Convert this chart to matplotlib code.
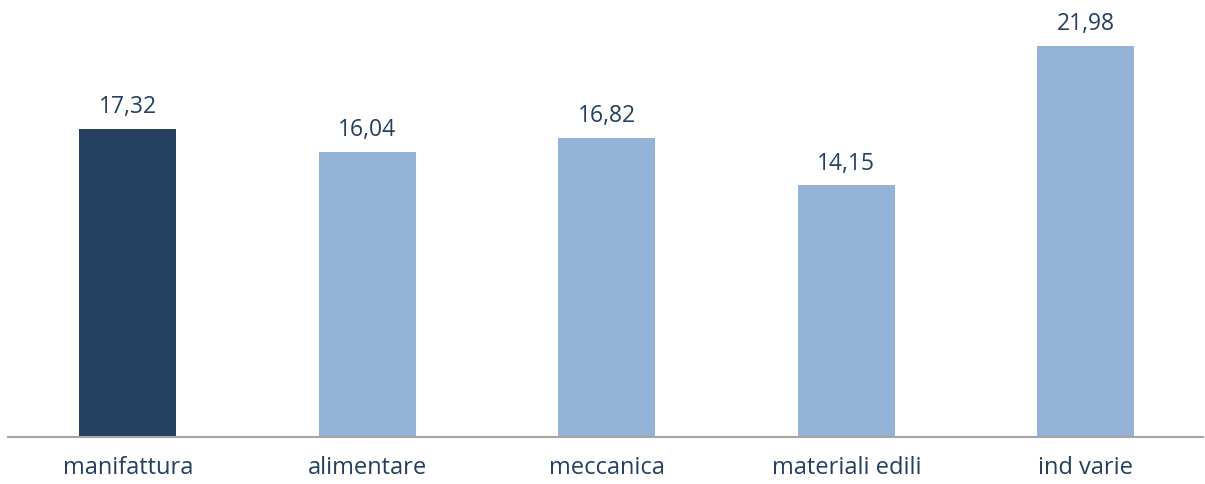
import matplotlib
matplotlib.use("Agg")
import matplotlib.pyplot as plt

categories = ["manifattura", "alimentare", "meccanica", "materiali edili", "ind varie"]
values = [17.32, 16.04, 16.82, 14.15, 21.98]
value_labels = ["17,32", "16,04", "16,82", "14,15", "21,98"]

dark = "#253f5f"
light = "#95b3d7"
text_color = "#253f5f"

plt.rcParams["font.family"] = ["Open Sans", "DejaVu Sans"]

fig = plt.figure(figsize=(12.05, 4.84), dpi=100)
ax = fig.add_axes([8 / 1205, 47 / 484, 1195 / 1205, 437 / 484])

x = list(range(len(categories)))
colors = [dark] + [light] * (len(categories) - 1)
bars = ax.bar(x, values, width=0.405, color=colors, zorder=2)

for b, lab in zip(bars, value_labels):
    ax.annotate(lab, (b.get_x() + b.get_width() / 2, b.get_height()),
                xytext=(0, 7), textcoords="offset points",
                ha="center", va="bottom", fontsize=16.5, color=text_color)

ax.set_xlim(-0.501, 4.489)
ax.set_ylim(0, 24.56)
ax.set_xticks(x)
ax.set_xticklabels(categories, fontsize=17, color=text_color)
ax.tick_params(axis="x", length=0, pad=14)
ax.set_yticks([])
for side in ["top", "right", "left"]:
    ax.spines[side].set_visible(False)
ax.spines["bottom"].set_color("#a6a6a6")
ax.spines["bottom"].set_linewidth(1.5)
ax.spines["bottom"].set_zorder(3)

fig.savefig("out.png", dpi=100)
